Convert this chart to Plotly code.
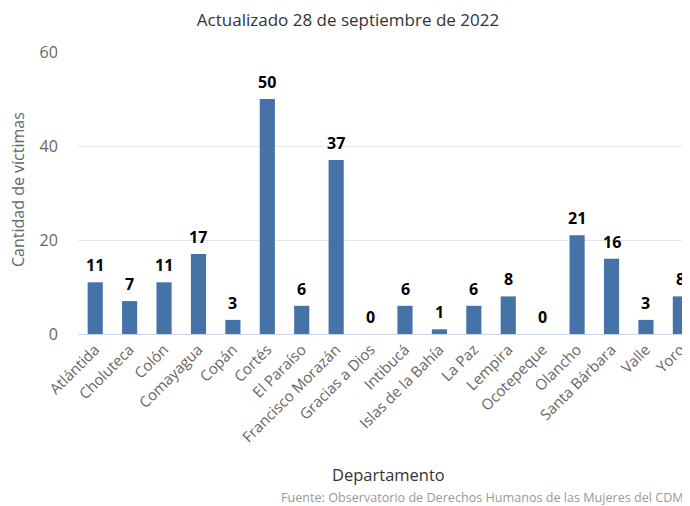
import plotly.graph_objects as go

departamentos = ["Atlántida", "Choluteca", "Colón", "Comayagua", "Copán", "Cortés",
                 "El Paraíso", "Francisco Morazán", "Gracias a Dios", "Intibucá",
                 "Islas de la Bahía", "La Paz", "Lempira", "Ocotepeque", "Olancho",
                 "Santa Bárbara", "Valle", "Yoro"]
victimas = [11, 7, 11, 17, 3, 50, 6, 37, 0, 6, 1, 6, 8, 0, 21, 16, 3, 8]
y_ticks = [0, 20, 40, 60]

FONT = "Open Sans, DejaVu Sans, sans-serif"
OFF = 8  # page body margin
W, H = 690 - OFF, 506 - OFF
L, T, B = 78 - OFF, 52 - OFF, 334 - OFF
PH = B - T
PW = W - L

fig = go.Figure(go.Bar(
    x=departamentos, y=victimas,
    marker=dict(color="#4572a7", line=dict(width=0)),
    hoverinfo="x+y",
))

annotations = [
    dict(x=d, y=v, xref="x", yref="y", text=f"<b>{v}</b>", showarrow=False,
         xanchor="center", yanchor="bottom", yshift=4,
         font=dict(family=FONT, size=16, color="#000000"))
    for d, v in zip(departamentos, victimas)
]
annotations += [
    dict(text="Cantidad de víctimas", xref="paper", yref="paper",
         x=-(78 - 18) / PW, y=(334 - 190) / PH, xanchor="center", yanchor="middle",
         textangle=-90, showarrow=False,
         font=dict(size=16, color="#666666", family=FONT)),
    dict(text="Departamento", xref="paper", yref="paper",
         x=(388 - 78) / PW, y=-(474 - 334) / PH, xanchor="center", yanchor="middle",
         showarrow=False, font=dict(size=16.5, color="#333333", family=FONT)),
    dict(text="Fuente: Observatorio de Derechos Humanos de las Mujeres del CDM",
         xref="paper", yref="paper", x=(279 - 78) / PW, y=-(497 - 334) / PH,
         xanchor="left", yanchor="middle", showarrow=False,
         font=dict(size=12.6, color="#999999", family=FONT)),
]

fig.update_layout(
    width=W, height=H,
    margin=dict(l=L, r=0, t=T, b=H - B, autoexpand=False),
    plot_bgcolor="white", paper_bgcolor="white",
    bargap=0.56, showlegend=False,
    font=dict(family=FONT, color="#666666"),
    title=dict(text="Actualizado 28 de septiembre de 2022", x=(348 - OFF) / W, xanchor="center",
               y=1 - (20 - OFF) / H, yanchor="middle", font=dict(size=17, color="#333333", family=FONT)),
    xaxis=dict(range=[-0.5, 17.28], tickangle=-45, tickfont=dict(size=15, color="#666666"),
               showgrid=False, showline=True, linecolor="#ccd6eb", linewidth=1,
               ticks="", automargin=False),
    yaxis=dict(range=[0, 60], tickvals=y_ticks, showgrid=True, gridcolor="#e6e6e6",
               zeroline=False, tickfont=dict(size=16, color="#666666"),
               ticks="outside", ticklen=0, ticklabelstandoff=16, automargin=False),
    annotations=annotations,
)

fig.write_html("out.html")
